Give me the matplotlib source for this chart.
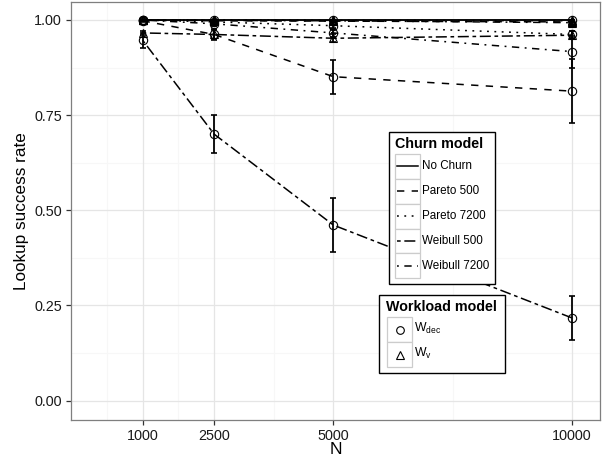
import matplotlib
matplotlib.use('Agg')
import matplotlib.pyplot as plt
from matplotlib.patches import Rectangle

plt.rcParams['font.family'] = ['Liberation Sans', 'DejaVu Sans']
plt.rcParams['mathtext.fontset'] = 'custom'
plt.rcParams['mathtext.rm'] = 'Liberation Sans'
plt.rcParams['mathtext.it'] = 'Liberation Sans:italic'

# ---------------- data ----------------
N = [1000, 2500, 5000, 10000]
churn_models = ['No Churn', 'Pareto 500', 'Pareto 7200', 'Weibull 500', 'Weibull 7200']
workload_models = ['Wdec', 'Wv']
workload_labels = [r'$\mathrm{W}_{\mathrm{dec}}$', r'$\mathrm{W}_{\mathrm{v}}$']

nochurn_wdec = [1.000, 1.000, 1.000, 1.000]
nochurn_wdec_err = [0.0, 0.0, 0.0, 0.0]
nochurn_wv = [1.000, 1.000, 1.000, 1.000]
nochurn_wv_err = [0.0, 0.0, 0.0, 0.0]
pareto500_wdec = [0.998, 0.962, 0.851, 0.813]
pareto500_wdec_err = [0.003, 0.015, 0.045, 0.085]
pareto500_wv = [1.000, 0.998, 0.997, 0.995]
pareto500_wv_err = [0.0, 0.003, 0.003, 0.004]
pareto7200_wdec = [1.000, 0.995, 0.985, 0.962]
pareto7200_wdec_err = [0.0, 0.004, 0.006, 0.010]
pareto7200_wv = [1.000, 1.000, 0.999, 0.998]
pareto7200_wv_err = [0.0, 0.0, 0.002, 0.002]
weibull500_wdec = [0.947, 0.700, 0.461, 0.217]
weibull500_wdec_err = [0.020, 0.050, 0.070, 0.058]
weibull500_wv = [0.966, 0.962, 0.952, 0.960]
weibull500_wv_err = [0.006, 0.012, 0.010, 0.010]
weibull7200_wdec = [1.000, 0.990, 0.966, 0.917]
weibull7200_wdec_err = [0.002, 0.006, 0.010, 0.042]
weibull7200_wv = [1.000, 0.999, 0.998, 0.993]
weibull7200_wv_err = [0.0, 0.002, 0.003, 0.005]

x_ticks = [1000, 2500, 5000, 10000]
x_minor = [250, 1750, 3750, 7500]
y_ticks = [0.0, 0.25, 0.5, 0.75, 1.0]
y_tick_labels = ['0.00', '0.25', '0.50', '0.75', '1.00']
y_minor = [0.125, 0.375, 0.625, 0.875]

series = [
    ('No Churn', 'Wdec', nochurn_wdec, nochurn_wdec_err),
    ('No Churn', 'Wv', nochurn_wv, nochurn_wv_err),
    ('Pareto 500', 'Wdec', pareto500_wdec, pareto500_wdec_err),
    ('Pareto 500', 'Wv', pareto500_wv, pareto500_wv_err),
    ('Pareto 7200', 'Wdec', pareto7200_wdec, pareto7200_wdec_err),
    ('Pareto 7200', 'Wv', pareto7200_wv, pareto7200_wv_err),
    ('Weibull 500', 'Wdec', weibull500_wdec, weibull500_wdec_err),
    ('Weibull 500', 'Wv', weibull500_wv, weibull500_wv_err),
    ('Weibull 7200', 'Wdec', weibull7200_wdec, weibull7200_wdec_err),
    ('Weibull 7200', 'Wv', weibull7200_wv, weibull7200_wv_err),
]

# ---------------- styles ----------------
u = 1.2
linestyles = {
    'No Churn': '-',
    'Pareto 500': (0, (4 * u, 4 * u)),
    'Pareto 7200': (0, (1 * u, 3 * u)),
    'Weibull 500': (0, (2 * u, 2 * u, 6 * u, 2 * u)),
    'Weibull 7200': (0, (1 * u, 3 * u, 4 * u, 3 * u)),
}
markers = {'Wdec': 'o', 'Wv': '^'}
LW = 1.1

W, H = 608, 461
fig = plt.figure(figsize=(W / 100, H / 100), dpi=100)
L, R, T, B = 71, 600, 2, 420
ax = fig.add_axes([L / W, (H - B) / H, (R - L) / W, (B - T) / H])

ax.set_xlim(-500, 10587)
ax.set_ylim(-0.0512, 1.0473)

# grid
for xm in x_minor:
    ax.axvline(xm, color='#f7f7f7', lw=0.8, zorder=0)
for ym in y_minor:
    ax.axhline(ym, color='#f7f7f7', lw=0.8, zorder=0)
for xt in x_ticks:
    ax.axvline(xt, color='#e5e5e5', lw=0.9, zorder=0)
for yt in y_ticks:
    ax.axhline(yt, color='#e5e5e5', lw=0.9, zorder=0)

for churn, wl, vals, errs in series:
    ax.plot(N, vals, color='black', lw=LW, linestyle=linestyles[churn],
            dash_capstyle='butt', zorder=2)
    ex = [n for n, e in zip(N, errs) if e > 0]
    ey = [v for v, e in zip(vals, errs) if e > 0]
    ee = [e for e in errs if e > 0]
    if ex:
        ax.errorbar(ex, ey, yerr=ee, fmt='none', ecolor='black', elinewidth=1.3,
                    capsize=2.2, capthick=1.2, zorder=3)
    ax.plot(N, vals, linestyle='none', marker=markers[wl], markersize=6,
            markerfacecolor='none', markeredgecolor='black', markeredgewidth=0.8,
            zorder=4)

ax.set_xticks(x_ticks)
ax.set_xticklabels([str(x) for x in x_ticks])
ax.set_yticks(y_ticks)
ax.set_yticklabels(y_tick_labels)
ax.tick_params(axis='both', direction='out', length=3.5, width=0.9, color='#333333',
               labelsize=10.4, labelcolor='#1a1a1a', pad=3)
for s in ax.spines.values():
    s.set_color('#7f7f7f')
    s.set_linewidth(0.9)
ax.set_xlabel('N', fontsize=12.5, labelpad=-1)
ax.set_ylabel('Lookup success rate', fontsize=12.3, labelpad=4)

# ---------------- legends (overlay in pixel coords) ----------------
ov = fig.add_axes([0, 0, 1, 1], zorder=10)
ov.set_xlim(0, W)
ov.set_ylim(H, 0)
ov.axis('off')
ov.patch.set_alpha(0)

# Churn model legend
bx0, by0, bx1, by1 = 388.5, 132, 495, 284
ov.add_patch(Rectangle((bx0, by0), bx1 - bx0, by1 - by0, facecolor='white',
                       edgecolor='black', lw=1.0))
ov.text(395, 143.5, 'Churn model', fontsize=10.3, fontweight='bold', va='center', ha='left')
kx, ky, kw, kh = 394.5, 154, 25, 24.85
for i, churn in enumerate(churn_models):
    y0 = ky + kh * i
    ov.add_patch(Rectangle((kx, y0), kw, kh, facecolor='white', edgecolor='#cccccc', lw=0.9))
    ov.plot([kx + 2, kx + kw - 2], [y0 + kh / 2, y0 + kh / 2], color='black', lw=LW,
            linestyle=linestyles[churn], dash_capstyle='butt')
    ov.text(422.5, y0 + kh / 2, churn, fontsize=8.4, va='center', ha='left')

# Workload model legend
bx0, by0, bx1, by1 = 379, 295, 505, 373
ov.add_patch(Rectangle((bx0, by0), bx1 - bx0, by1 - by0, facecolor='white',
                       edgecolor='black', lw=1.0))
ov.text(386.5, 306.5, 'Workload model', fontsize=10.3, fontweight='bold', va='center', ha='left')
kx, ky, kw, kh = 387, 317.3, 25, 25
for i, wl in enumerate(workload_models):
    y0 = ky + kh * i
    ov.add_patch(Rectangle((kx, y0), kw, kh, facecolor='white', edgecolor='#cccccc', lw=0.9))
    ov.plot([kx + kw / 2], [y0 + kh / 2], marker=markers[wl], markersize=5.5,
            markerfacecolor='none', markeredgecolor='black', markeredgewidth=0.8)
    ov.text(414.5, y0 + kh / 2 - 1, workload_labels[i], fontsize=8.8, va='center', ha='left')

fig.savefig('out.png', dpi=100)
